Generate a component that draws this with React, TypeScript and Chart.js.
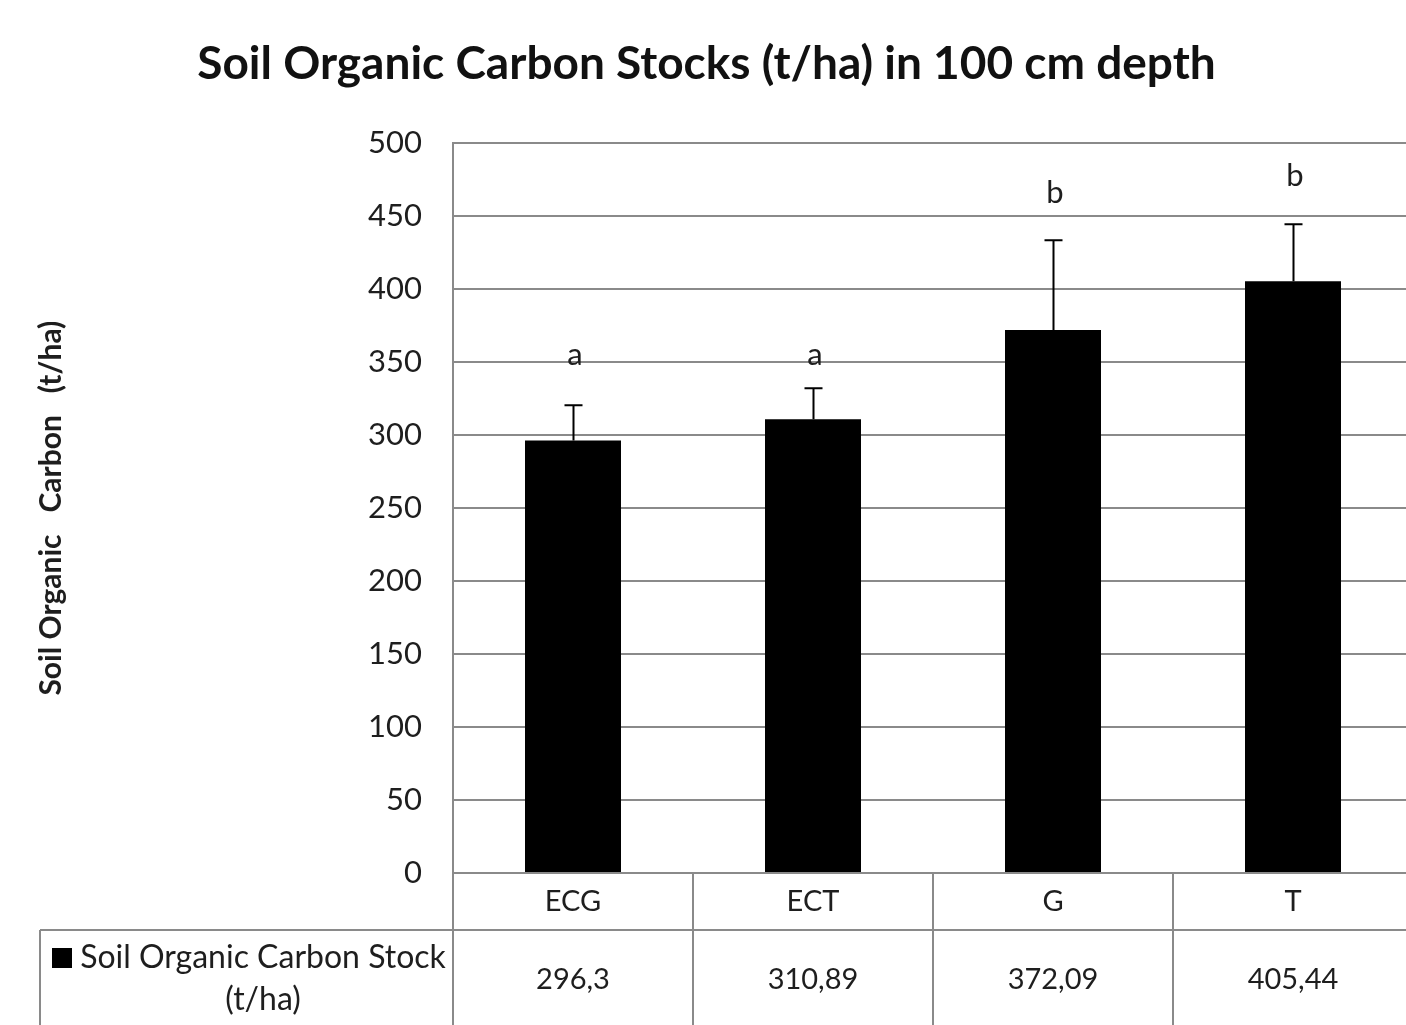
import React, { useEffect, useRef } from "react";
import { Chart, registerables } from "chart.js";

Chart.register(...registerables);

const categories = ["ECG", "ECT", "G", "T"];
const socValues = [296.3, 310.89, 372.09, 405.44];
const socErrors = [24.2, 21.3, 61.5, 39.1];
const groupLetters = ["a", "a", "b", "b"];
const letterLevels = [348, 348, 459, 471];
const yTicks = [0, 50, 100, 150, 200, 250, 300, 350, 400, 450, 500];
const seriesName = ["Soil Organic Carbon Stock", "(t/ha)"];

const FONT = "Lato";
const TEXT = "#1e1e1e";
const GRID = "#8a8a8a";

const tablePlugin = {
  id: "dataTable",
  afterDatasetsDraw(chart: any) {
    const { ctx, scales } = chart;
    const x = scales.x;
    const y = scales.y;
    ctx.save();
    // error bars
    ctx.strokeStyle = "#000";
    ctx.lineWidth = 2;
    socValues.forEach((v, i) => {
      const cx = Math.round(x.getPixelForValue(i)) + 0.5;
      const y0 = y.getPixelForValue(v);
      const y1 = y.getPixelForValue(v + socErrors[i]);
      ctx.beginPath();
      ctx.moveTo(cx, y0);
      ctx.lineTo(cx, y1);
      ctx.moveTo(cx - 9, y1);
      ctx.lineTo(cx + 9, y1);
      ctx.stroke();
    });
    // letters
    ctx.fillStyle = TEXT;
    ctx.font = `31px ${FONT}`;
    ctx.textAlign = "center";
    ctx.textBaseline = "alphabetic";
    groupLetters.forEach((l, i) => {
      ctx.fillText(l, x.getPixelForValue(i) + 2, y.getPixelForValue(letterLevels[i]));
    });
    ctx.restore();
  },
  afterDraw(chart: any) {
    const { ctx, chartArea, scales } = chart;
    const x = scales.x;
    const H = chart.height;
    const n = categories.length;
    const w = (chartArea.right - chartArea.left) / n;
    const rowTop = chartArea.bottom;
    const rowMid = rowTop + 57;
    ctx.save();
    ctx.strokeStyle = GRID;
    ctx.lineWidth = 2;
    ctx.beginPath();
    ctx.moveTo(chartArea.left, rowTop);
    ctx.lineTo(chartArea.left, H);
    for (let i = 1; i <= n; i++) {
      const bx = chartArea.left + i * w;
      ctx.moveTo(bx, rowTop);
      ctx.lineTo(bx, H);
    }
    ctx.moveTo(40, rowMid);
    ctx.lineTo(chartArea.right, rowMid);
    ctx.moveTo(40, rowMid);
    ctx.lineTo(40, H);
    ctx.stroke();

    ctx.fillStyle = TEXT;
    ctx.font = `29px ${FONT}`;
    ctx.textAlign = "center";
    ctx.textBaseline = "middle";
    categories.forEach((c, i) => {
      ctx.fillText(c, x.getPixelForValue(i), rowTop + 29);
    });
    socValues.forEach((v, i) => {
      ctx.fillText(String(v).replace(".", ","), x.getPixelForValue(i), rowMid + 50);
    });
    // legend cell
    ctx.fillStyle = "#000";
    ctx.fillRect(52, rowMid + 18, 20, 20);
    ctx.fillStyle = TEXT;
    ctx.font = `32px ${FONT}`;
    ctx.fillText(seriesName[0], 263, rowMid + 28);
    ctx.fillText(seriesName[1], 263, rowMid + 70);
    ctx.restore();
  },
};

export default function App() {
  const ref = useRef<HTMLCanvasElement | null>(null);
  useEffect(() => {
    document.body.style.margin = "0";
    document.body.style.overflow = "hidden";
    if (!ref.current) return;
    const chart = new Chart(ref.current, {
      type: "bar",
      data: {
        labels: categories,
        datasets: [
          {
            label: seriesName.join(" "),
            data: socValues,
            backgroundColor: "#000",
            borderWidth: 0,
            barPercentage: 1,
            categoryPercentage: 0.4,
          },
        ],
      },
      options: {
        animation: false,
        responsive: false,
        devicePixelRatio: 1,
        layout: { padding: { left: 0, right: 17, top: 0, bottom: 152 } },
        plugins: {
          legend: { display: false },
          tooltip: { enabled: false },
          title: {
            display: true,
            text: "Soil Organic Carbon Stocks (t/ha) in 100 cm depth",
            color: "#111",
            font: { family: FONT, size: 46, weight: "bold", lineHeight: 1.2 },
            padding: { top: 37, bottom: 51 },
          },
        },
        scales: {
          x: { display: false },
          y: {
            min: 0,
            max: 500,
            afterBuildTicks(scale: any) {
              scale.ticks = yTicks.map((v) => ({ value: v }));
            },
            afterFit(scale: any) {
              scale.width = 453;
            },
            ticks: {
              color: TEXT,
              font: { family: FONT, size: 31 },
              padding: 31,
            },
            grid: { color: GRID, lineWidth: 2, drawTicks: false },
            border: { display: true, color: GRID, width: 2 },
            title: {
              display: true,
              text: "Soil Organic   Carbon   (t/ha)",
              color: TEXT,
              font: { family: FONT, size: 30, weight: "bold", lineHeight: 1.2 },
              padding: { top: 33 },
            },
          },
        },
      },
      plugins: [tablePlugin],
    });
    return () => chart.destroy();
  }, []);
  return (
    <div style={{ width: 1406, height: 1025, overflow: "hidden", position: "relative", background: "#fff" }}>
      <canvas ref={ref} width={1430} height={1025} style={{ display: "block", width: 1430, height: 1025 }} />
    </div>
  );
}
